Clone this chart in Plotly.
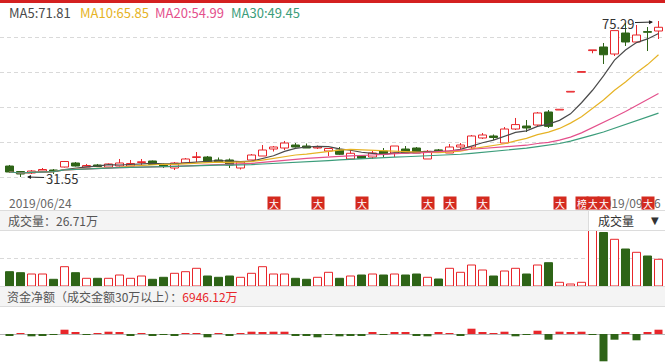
import plotly.graph_objects as go
import pandas as pd

W, H = 665, 362

# ---------------- data ----------------
OPEN = [34.63, 33.09, 32.67, 33.23, 33.51, 34.35, 35.48, 34.35, 34.92, 34.35,
        34.63, 34.63, 35.62, 36.04, 35.06, 34.07, 35.48, 37.02, 37.16, 36.32,
        36.32, 34.07, 36.32, 37.44, 39.40, 39.68, 40.52, 40.24, 39.68, 38.84,
        39.12, 36.60, 37.44, 37.16, 38.84, 38.28, 39.40, 39.68, 36.60, 39.02,
        38.28, 39.96, 39.96, 42.49, 43.05, 41.08, 45.01, 45.85, 46.13, 49.78,
        50.34, 55.37, 60.91, 67.00, 68.01, 66.04, 71.93, 69.41, 72.30, 72.49]
HIGH = [34.92, 33.23, 33.51, 34.07, 33.79, 36.04, 35.76, 35.20, 35.20, 35.34,
        36.60, 36.32, 36.60, 36.18, 35.34, 35.76, 36.88, 38.56, 37.44, 37.02,
        36.74, 36.04, 38.00, 40.52, 40.24, 41.65, 41.08, 40.94, 40.38, 39.68,
        39.96, 39.12, 37.58, 38.84, 39.68, 40.24, 40.24, 39.96, 39.12, 39.40,
        40.80, 41.08, 43.33, 43.89, 43.47, 45.57, 48.10, 47.53, 49.78, 50.34,
        50.34, 55.37, 60.91, 67.00, 69.13, 72.60, 74.74, 74.18, 73.61, 75.29]
LOW = [32.67, 31.55, 32.39, 33.09, 32.39, 34.21, 34.49, 34.35, 34.35, 34.21,
       34.49, 34.63, 34.77, 34.92, 34.07, 33.51, 35.48, 35.76, 35.76, 35.48,
       34.07, 33.65, 36.32, 37.44, 38.70, 39.12, 39.82, 39.68, 39.40, 37.44,
       37.72, 36.60, 36.60, 36.60, 37.16, 37.16, 38.28, 38.28, 36.60, 38.42,
       38.28, 39.40, 39.40, 42.21, 41.93, 41.08, 44.73, 44.17, 45.85, 45.29,
       50.34, 55.37, 60.91, 66.25, 63.24, 65.48, 68.29, 69.13, 66.88, 70.25]
CLOSE = [32.95, 32.39, 33.23, 33.65, 33.09, 35.90, 34.63, 34.77, 34.49, 35.20,
         35.48, 35.34, 35.76, 35.06, 34.63, 35.48, 36.60, 37.16, 35.76, 35.76,
         34.92, 35.76, 37.72, 39.12, 39.96, 41.08, 39.96, 39.68, 39.96, 39.54,
         37.92, 38.20, 36.80, 38.28, 38.00, 40.24, 38.28, 38.28, 38.76, 38.94,
         39.96, 40.52, 43.05, 43.33, 42.63, 45.01, 46.25, 45.29, 49.50, 45.76,
         50.34, 55.37, 60.91, 67.00, 65.83, 72.60, 69.41, 71.37, 72.13, 73.54]
# volume, 万股
VOLUME = [14.3, 13.3, 12.0, 12.0, 6.7, 19.3, 13.3, 7.7, 7.7, 7.7,
          11.0, 7.7, 10.0, 6.7, 8.7, 12.7, 14.3, 17.7, 10.0, 8.7,
          10.0, 8.7, 12.7, 19.3, 12.0, 12.0, 7.7, 6.7, 8.7, 13.7,
          7.7, 10.0, 11.0, 12.0, 11.0, 12.0, 11.0, 12.0, 8.7, 7.0,
          17.7, 13.7, 21.0, 16.0, 10.0, 15.0, 17.7, 12.0, 21.0, 23.3,
          3.7, 2.0, 3.7, 55.5, 53.5, 46.7, 37.0, 33.7, 30.0, 26.71]
# net fund flow, 万元
NET_FLOW = [-2750, 1620, -3710, -2750, -1130, 6940, 2100, -810, 1620, 3710,
            2100, -2100, 480, -2100, -810, -2100, 1620, 480, -5330, 480,
            -2100, 1620, 3710, 2100, 3710, 3710, -2750, -2750, -5330, -810,
            -3710, -2750, -2750, 2100, -1130, 2100, 2100, -2750, -3710, 2100,
            480, -2750, 8560, 2100, 480, 3710, -3710, -1130, 5330, -9200,
            3710, 2100, 3710, -810, -44090, -9200, 2100, -10170, 2100, 6946.12]
DATE_LABELS = ["2019/06/24", "2019/09/16"]
BADGE_IDX = [24, 28, 32, 38, 40, 43, 50, 52, 53, 54, 58]
BADGE_TEXT = ["大", "大", "大", "大", "大", "大", "大", "榜", "大", "大", "大"]
MA_PERIODS = [5, 10, 20, 30]

# ---------------- style ----------------
MA_COLORS = ["#4a4a4a", "#e6b325", "#e4508c", "#3c9d7b"]
RED = "#e8262b"
GREEN = "#2e6417"
BADGE_RED = "#d42a1f"
GRID = "#d9d9d9"
FONT = "Microsoft YaHei, Noto Sans CJK SC, sans-serif"
PITCH = 11.0
X0 = 9.5


def py(px):
    return 1 - px / H


def pxx(px):
    return px / W


n = len(CLOSE)
idx = list(range(n))
closes = pd.Series(CLOSE)
ma = {p: closes.rolling(p, min_periods=1).mean() for p in MA_PERIODS}

up = []
for i in range(n):
    if CLOSE[i] > OPEN[i]:
        up.append(True)
    elif CLOSE[i] < OPEN[i]:
        up.append(False)
    else:
        up.append(i > 0 and CLOSE[i] >= CLOSE[i - 1])

fig = go.Figure()

# wicks
for flag, col in [(True, RED), (False, GREEN)]:
    xs, ys = [], []
    for i in idx:
        if up[i] != flag:
            continue
        top, bot = max(OPEN[i], CLOSE[i]), min(OPEN[i], CLOSE[i])
        if HIGH[i] > top:
            xs += [i, i, None]; ys += [top, HIGH[i], None]
        if LOW[i] < bot:
            xs += [i, i, None]; ys += [LOW[i], bot, None]
    fig.add_trace(go.Scatter(x=xs, y=ys, mode="lines", line=dict(color=col, width=1),
                             xaxis="x", yaxis="y", hoverinfo="skip", showlegend=False))

# bodies
base = [min(o, c) for o, c in zip(OPEN, CLOSE)]
blen = [max(abs(c - o), 0.2) for o, c in zip(OPEN, CLOSE)]
fig.add_trace(go.Bar(x=idx, y=blen, base=base, width=8 / PITCH,
                     marker=dict(color=["white" if u else GREEN for u in up],
                                 line=dict(color=[RED if u else GREEN for u in up], width=1)),
                     xaxis="x", yaxis="y", showlegend=False))

# moving averages
for p, col in zip(MA_PERIODS, MA_COLORS):
    fig.add_trace(go.Scatter(x=idx, y=ma[p], mode="lines", line=dict(color=col, width=1.2),
                             xaxis="x", yaxis="y", showlegend=False, hoverinfo="skip"))

# volume
fig.add_trace(go.Bar(x=idx, y=VOLUME, width=8 / PITCH,
                     marker=dict(color=["white" if u else GREEN for u in up],
                                 line=dict(color=[RED if u else GREEN for u in up], width=1)),
                     xaxis="x", yaxis="y2", showlegend=False))

# net flow
fig.add_trace(go.Bar(x=idx, y=NET_FLOW, width=8 / PITCH,
                     marker=dict(color=[RED if v >= 0 else GREEN for v in NET_FLOW], line=dict(width=0)),
                     xaxis="x", yaxis="y3", showlegend=False))

P_TOP, P_BOT = 80.345, 21.735
grid_vals = [P_BOT + (P_TOP - P_BOT) * k / 6 for k in range(1, 6)]
VMAX = 56
FMAX = 45220

shapes = [
    dict(type="rect", xref="paper", yref="paper", x0=0, x1=1, y0=py(3), y1=1,
         fillcolor="#d42020", line=dict(width=0)),
    dict(type="rect", xref="paper", yref="paper", x0=-0.01, x1=1.01, y0=py(230.5), y1=py(210.5),
         fillcolor="#f4f4f4", line=dict(color="#dcdcdc", width=1)),
    dict(type="rect", xref="paper", yref="paper", x0=pxx(588.5), x1=1.01, y0=py(230.5), y1=py(210.5),
         fillcolor="#ffffff", line=dict(color="#dcdcdc", width=1)),
    dict(type="rect", xref="paper", yref="paper", x0=-0.01, x1=1.01, y0=py(306.5), y1=py(286.5),
         fillcolor="#f4f4f4", line=dict(color="#dcdcdc", width=1)),
]

ann = []
lx = [7, 78, 153, 229]
for p, col, x in zip(MA_PERIODS, MA_COLORS, lx):
    ann.append(dict(text=f"MA{p}:{ma[p].iloc[-1]:.2f}", xref="paper", yref="paper",
                    x=pxx(x), y=py(13), xanchor="left", yanchor="middle", showarrow=False,
                    font=dict(family=FONT, size=13, color=col)))

# date labels
ann.append(dict(text=DATE_LABELS[0], xref="x", yref="paper", x=0, y=py(202), xanchor="left",
                yanchor="middle", xshift=-3, showarrow=False, font=dict(family=FONT, size=12, color="#666")))
ann.append(dict(text=DATE_LABELS[1], xref="x", yref="paper", x=n - 1, y=py(202), xanchor="right",
                yanchor="middle", xshift=4, showarrow=False, font=dict(family=FONT, size=12, color="#666")))

# badges
for i, t in zip(BADGE_IDX, BADGE_TEXT):
    ann.append(dict(text=t, xref="x", yref="paper", x=i, y=py(202.5), xanchor="center", yanchor="middle",
                    showarrow=False, bgcolor=BADGE_RED, width=12, height=12, borderpad=0,
                    font=dict(family=FONT, size=10, color="white")))

# low / high markers
lo_i = min(idx, key=lambda i: LOW[i])
hi_i = max(idx, key=lambda i: HIGH[i])
ann.append(dict(text=f"{LOW[lo_i]:.2f}", xref="x", yref="y", x=lo_i, y=LOW[lo_i], xshift=6.5,
                showarrow=True, ax=34.5, ay=1, arrowhead=2, arrowsize=0.8, arrowwidth=1,
                arrowcolor="#222", standoff=0, font=dict(family=FONT, size=13, color="#333")))
ann.append(dict(text=f"{HIGH[hi_i]:.2f}", xref="x", yref="y", x=hi_i, y=HIGH[hi_i], xshift=-5.5,
                yshift=-1, showarrow=True, ax=-35.5, ay=1, arrowhead=2, arrowsize=0.8, arrowwidth=1,
                arrowcolor="#222", standoff=0, font=dict(family=FONT, size=13, color="#333")))

# panel titles
ann.append(dict(text=f"成交量：{VOLUME[-1]:.2f}万", xref="paper", yref="paper", x=pxx(6), y=py(220.5),
                xanchor="left", yanchor="middle", showarrow=False, font=dict(family=FONT, size=12, color="#555")))
ann.append(dict(text="成交量", xref="paper", yref="paper", x=pxx(596), y=py(220.5),
                xanchor="left", yanchor="middle", showarrow=False, font=dict(family=FONT, size=12, color="#333")))
ann.append(dict(text="▼", xref="paper", yref="paper", x=pxx(655), y=py(220), xanchor="center",
                yanchor="middle", showarrow=False, font=dict(family="DejaVu Sans", size=10, color="#333")))
ann.append(dict(text=f"资金净额（成交金额30万以上）：<span style='color:{RED}'>{NET_FLOW[-1]:.2f}万</span>",
                xref="paper", yref="paper", x=pxx(5), y=py(296.5), xanchor="left", yanchor="middle",
                showarrow=False, font=dict(family=FONT, size=12, color="#555")))

fig.update_layout(
    width=W, height=H, margin=dict(l=0, r=0, t=0, b=0),
    paper_bgcolor="white", plot_bgcolor="white", barmode="overlay", showlegend=False,
    xaxis=dict(domain=[0, 1], range=[-X0 / PITCH, (W - X0) / PITCH], showgrid=False, zeroline=False,
               showticklabels=False, showline=False, ticks=""),
    yaxis=dict(domain=[py(212), py(3)], range=[P_BOT, P_TOP], anchor="x", tickmode="array",
               tickvals=grid_vals, showticklabels=False, ticks="", gridcolor=GRID, griddash="4px,3px",
               gridwidth=1, zeroline=False, showline=False),
    yaxis2=dict(domain=[py(286), py(230)], range=[0, VMAX], anchor="x", tickmode="array",
                tickvals=[VMAX / 2], showticklabels=False, ticks="", gridcolor=GRID, griddash="4px,3px",
                zeroline=False, showline=False),
    yaxis3=dict(domain=[0, py(306)], range=[-FMAX, FMAX], anchor="x", showgrid=False,
                showticklabels=False, ticks="", zeroline=True, zerolinecolor="#b5b5b5", zerolinewidth=1,
                showline=False),
    shapes=shapes, annotations=ann,
)

fig.write_html("out.html", config={"displayModeBar": False},
               post_script="document.body.style.margin='0';document.body.style.overflow='hidden';")
